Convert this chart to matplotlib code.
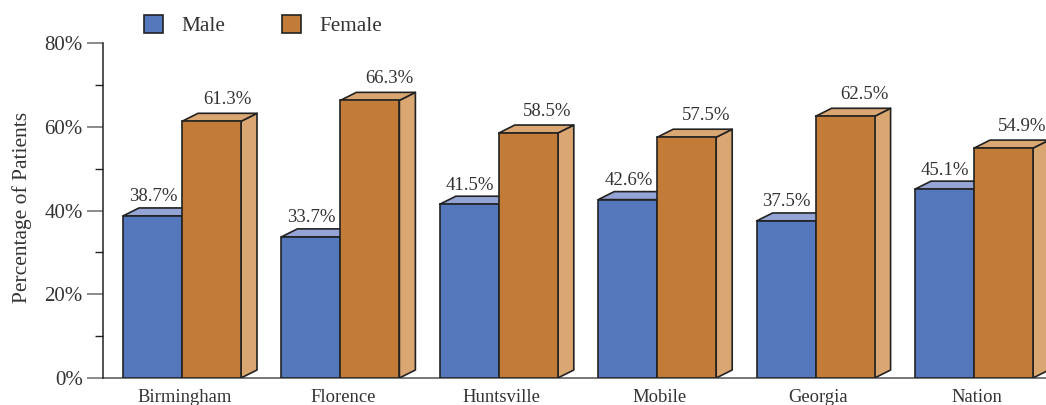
import matplotlib
matplotlib.use('Agg')
import matplotlib.pyplot as plt
from matplotlib.patches import Polygon, Rectangle
from matplotlib.transforms import ScaledTranslation

plt.rcParams['font.family'] = 'Liberation Serif'

cities = ['Birmingham', 'Florence', 'Huntsville', 'Mobile', 'Georgia', 'Nation']
male = [38.7, 33.7, 41.5, 42.6, 37.5, 45.1]
female = [61.3, 66.3, 58.5, 57.5, 62.5, 54.9]

W, H = 1046, 405
pitch = 158.4      # px between groups
scale = 335 / 80   # px per percent
bar_w = 59 / pitch
dx = 16 / pitch
dy = 8 / scale
edge = '#222222'
text_col = '#333333'
axis_gray = '#777777'
# small hand nudges for the female labels, in points
nudge = [-1.8, 0.2, 0.2, 0.8, 0.2, 0.0]


def box(ax, x, h, front, top, side):
    # side and top first, front goes over their edges
    ax.add_patch(Polygon([(x + bar_w, 0), (x + bar_w + dx, dy), (x + bar_w + dx, h + dy), (x + bar_w, h)],
                         facecolor=side, edgecolor=edge, lw=1.2, joinstyle='round', zorder=2))
    ax.add_patch(Polygon([(x, h), (x + dx, h + dy), (x + bar_w + dx, h + dy), (x + bar_w, h)],
                         facecolor=top, edgecolor=edge, lw=1.2, joinstyle='round', zorder=2))
    ax.add_patch(Rectangle((x, 0), bar_w, h, facecolor=front, edgecolor=edge, lw=1.2, zorder=2))


fig = plt.figure(figsize=(W / 100, H / 100), dpi=100)
ax = fig.add_axes([102.5 / W, 1 - 378 / H, (W - 102.5) / W, 335 / H])
ax.set_xlim((102.5 - 182) / pitch, (W - 182) / pitch)
ax.set_ylim(0, 80)

for i in range(len(cities)):
    box(ax, i - bar_w, male[i], '#5577BB', '#94A4D4', '#94A4D4')
    box(ax, i, female[i], '#C27C38', '#DAA672', '#DAA672')
    ax.annotate('%.1f%%' % male[i], (i - bar_w / 2, male[i]), xytext=(0.5, 10.5),
                textcoords='offset points', ha='center', va='baseline', fontsize=13.5,
                color=text_col, zorder=3, annotation_clip=False)
    ax.annotate('%.1f%%' % female[i], (i + bar_w / 2, female[i]), xytext=(13.5 + nudge[i], 12.5),
                textcoords='offset points', ha='center', va='baseline', fontsize=13.5,
                color=text_col, zorder=3, annotation_clip=False)

for s in ['top', 'right']:
    ax.spines[s].set_visible(False)
ax.spines['left'].set_color(edge)
ax.spines['left'].set_linewidth(1.1)
ax.spines['bottom'].set_color(axis_gray)
ax.spines['bottom'].set_linewidth(1.4)
ax.spines['bottom'].set_zorder(1)

ax.set_yticks([0, 20, 40, 60, 80])
ax.set_yticklabels(['0%', '20%', '40%', '60%', '80%'], fontsize=15, color=text_col)
ax.set_yticks([10, 30, 50, 70], minor=True)
ax.tick_params(axis='y', which='major', length=11.5, width=1.2, color=axis_gray, pad=2.7)
ax.tick_params(axis='y', which='minor', length=6, width=1, color=edge)

ax.set_xticks(range(len(cities)))
ax.set_xticklabels(cities, fontsize=13.4, color=text_col)
ax.tick_params(axis='x', length=0, pad=7.8)
shift = ScaledTranslation(2.5 / 100, 0, fig.dpi_scale_trans)
for lab in ax.get_xticklabels():
    lab.set_transform(lab.get_transform() + shift)

fig.text(22.5 / W, 1 - 207.5 / H, 'Percentage of Patients', rotation=90, ha='center', va='center',
         fontsize=15.5, color=text_col)

handles = [Rectangle((0, 0), 1, 1, facecolor='#5577BB', edgecolor=edge, lw=1.2),
           Rectangle((0, 0), 1, 1, facecolor='#C27C38', edgecolor=edge, lw=1.2)]
leg = fig.legend(handles, ['Male', 'Female'], ncol=2, frameon=False, fontsize=15.3,
                 loc='upper left', bbox_to_anchor=(144 / W, 1 - 15 / H), borderpad=0, borderaxespad=0,
                 handlelength=0.9, handleheight=0.95, handletextpad=0.86, columnspacing=2.66,
                 labelcolor=text_col)

fig.savefig('out.png', dpi=100)
